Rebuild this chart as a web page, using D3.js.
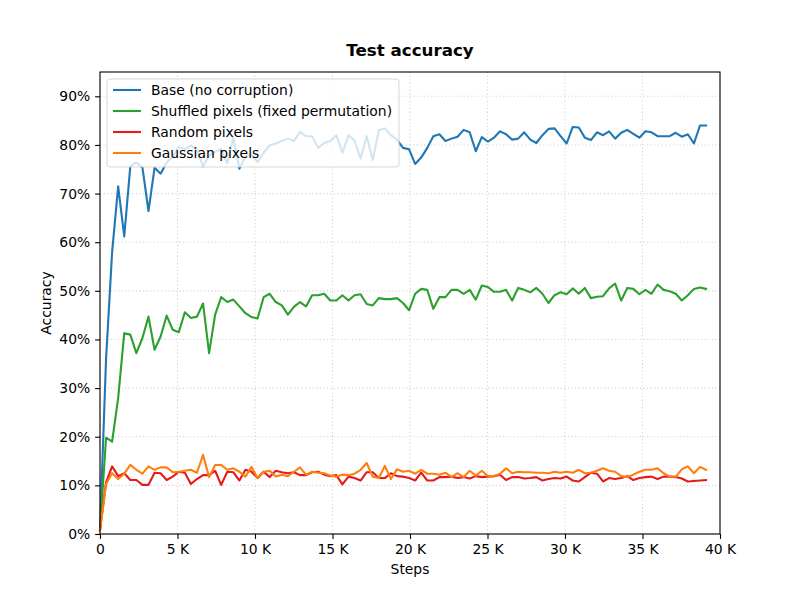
<!DOCTYPE html>
<html>
<head>
<meta charset="utf-8">
<script src="https://cdn.jsdelivr.net/npm/d3@7"></script>
<style>
  body { margin: 0; background: #fff; }
  svg { font-family: "DejaVu Sans", sans-serif; }
</style>
</head>
<body>
<section></section>
<script>
// one evaluation every 391 steps (one epoch), 101 evaluations
const EVAL_EVERY = 391;

// accuracy in percent
const base = [
  0.8, 36, 58, 71.5, 61.2, 75.6, 76.4, 75.4, 66.4, 75.3,
  74.1, 76.4, 77.6, 79.6, 79.1, 79.9, 79.0, 75.6, 77.8, 78.6,
  79.1, 76.2, 81.5, 75.1, 77.6, 78.0, 76.5, 78.4, 79.9, 80.3,
  80.8, 81.3, 80.8, 82.7, 81.8, 81.8, 79.4, 80.4, 80.8, 82.0,
  78.4, 82.0, 80.9, 77.2, 81.8, 76.9, 83.0, 83.4, 82.0, 81.1,
  79.4, 79.1, 76.1, 77.4, 79.4, 81.8, 82.2, 80.8, 81.3, 81.7,
  83.1, 82.6, 78.7, 81.6, 80.7, 81.5, 82.8, 82.2, 81.1, 81.3,
  82.6, 81.1, 80.4, 82.0, 83.3, 83.4, 81.8, 80.3, 83.7, 83.6,
  81.5, 81.0, 82.6, 82.0, 82.8, 81.3, 82.5, 83.1, 82.3, 81.5,
  82.8, 82.6, 81.8, 81.8, 81.8, 82.5, 81.7, 82.2, 80.3, 84.0, 84.0
];
const shuffled = [
  0.8, 19.8, 19.0, 28.0, 41.3, 41.0, 37.2, 40.3, 44.7, 37.9,
  40.6, 44.9, 42.0, 41.5, 45.6, 44.4, 44.7, 47.4, 37.2, 45.1,
  48.7, 47.7, 48.2, 46.8, 45.4, 44.6, 44.3, 48.7, 49.4, 47.7,
  47.0, 45.1, 46.7, 47.7, 46.8, 49.1, 49.1, 49.4, 48.0, 48.0,
  49.1, 48.0, 49.1, 49.3, 47.3, 47.0, 48.5, 48.3, 48.3, 48.5,
  47.5, 46.0, 49.4, 50.4, 50.2, 46.3, 48.7, 48.7, 50.2, 50.2,
  49.4, 50.2, 48.2, 51.1, 50.8, 49.8, 49.8, 50.2, 48.0, 50.6,
  50.2, 49.7, 50.6, 49.4, 47.5, 49.1, 49.7, 49.3, 50.5, 49.4,
  50.6, 48.5, 48.8, 48.9, 50.5, 51.5, 48.0, 50.6, 50.4, 49.3,
  50.2, 49.4, 51.3, 50.2, 49.9, 49.4, 48.0, 49.1, 50.4, 50.7, 50.4
];
const randomPx = [
  0.8, 10.6, 13.9, 11.9, 12.5, 11.1, 11.1, 10.1, 10.1, 12.6,
  12.5, 11.1, 11.8, 12.8, 12.6, 10.3, 11.3, 12.1, 12.1, 13.0,
  10.1, 12.8, 12.7, 11.0, 13.2, 12.8, 11.5, 12.8, 11.7, 13.0,
  12.7, 12.5, 12.7, 12.1, 12.1, 12.7, 12.8, 12.2, 11.9, 12.1,
  10.2, 11.8, 11.5, 11.0, 12.7, 12.7, 11.5, 11.5, 12.5, 11.9,
  11.8, 11.5, 11.0, 12.6, 11.0, 11.0, 11.7, 11.7, 11.8, 11.5,
  11.7, 11.4, 11.9, 11.7, 11.8, 11.9, 12.2, 11.1, 11.7, 11.7,
  11.4, 11.5, 11.7, 11.0, 11.3, 11.5, 11.4, 11.8, 11.0, 10.8,
  11.7, 12.6, 12.4, 10.8, 11.5, 11.3, 11.5, 11.9, 11.1, 11.5,
  11.7, 11.8, 11.3, 11.8, 11.8, 11.7, 11.4, 10.8, 10.9, 11.0, 11.1
];
const gaussian = [
  0.8, 10.3, 12.5, 11.3, 12.4, 14.2, 13.2, 12.4, 13.9, 13.2,
  13.7, 13.7, 12.7, 12.8, 13.0, 13.2, 12.6, 16.3, 11.7, 14.2,
  14.2, 13.2, 13.5, 12.8, 11.8, 13.8, 11.5, 12.8, 13.0, 11.8,
  12.2, 11.9, 12.8, 13.7, 12.2, 12.8, 12.6, 12.5, 12.0, 11.8,
  12.2, 12.1, 12.4, 13.2, 14.6, 11.8, 11.5, 14.0, 11.3, 13.3,
  12.8, 13.0, 12.4, 13.2, 12.4, 12.4, 12.2, 12.6, 11.7, 12.5,
  11.7, 13.0, 12.0, 13.0, 11.9, 11.9, 12.4, 13.5, 12.5, 12.8,
  12.7, 12.7, 12.6, 12.6, 12.5, 12.8, 12.6, 12.8, 12.6, 13.2,
  12.5, 12.6, 13.0, 13.5, 13.0, 12.8, 11.9, 11.7, 12.2, 12.8,
  13.2, 13.2, 13.5, 12.5, 11.8, 11.8, 13.3, 13.9, 12.5, 13.8, 13.2
];

const seriesNames = ["Base (no corruption)", "Shuffled pixels (fixed permutation)", "Random pixels", "Gaussian pixels"];
const seriesColors = ["#1f77b4", "#2ca02c", "#e41a1c", "#ff7f0e"];
const seriesValues = [base, shuffled, randomPx, gaussian];

const xTicks = [0, 5000, 10000, 15000, 20000, 25000, 30000, 35000, 40000];
const yTicks = [0, 0.1, 0.2, 0.3, 0.4, 0.5, 0.6, 0.7, 0.8, 0.9];

const WIDTH = 800;
const HEIGHT = 600;
const M = {top: 72, right: 80, bottom: 66, left: 100};
const FS = 13.9;

const svg = d3.select("section")
  .append("svg")
  .attr("width", WIDTH)
  .attr("height", HEIGHT);

const xScale = d3.scaleLinear().domain([0, 40000]).range([M.left, WIDTH - M.right]);
const yScale = d3.scaleLinear().domain([0, 0.95]).range([HEIGHT - M.bottom, M.top]);

// dotted grid
svg.append("g").selectAll("line")
  .data(xTicks).enter().append("line")
  .attr("x1", d => xScale(d)).attr("x2", d => xScale(d))
  .attr("y1", M.top).attr("y2", HEIGHT - M.bottom)
  .attr("stroke", "#d0d0d0").attr("stroke-width", 1.1)
  .attr("stroke-dasharray", "1.1,2.5");
svg.append("g").selectAll("line")
  .data(yTicks).enter().append("line")
  .attr("x1", M.left).attr("x2", WIDTH - M.right)
  .attr("y1", d => yScale(d)).attr("y2", d => yScale(d))
  .attr("stroke", "#d0d0d0").attr("stroke-width", 1.1)
  .attr("stroke-dasharray", "1.1,2.5");

// lines
const line = d3.line()
  .x((d, i) => xScale(i * EVAL_EVERY))
  .y(d => yScale(d / 100));

svg.append("g").selectAll("path")
  .data(seriesValues).enter().append("path")
  .attr("d", d => line(d))
  .attr("fill", "none")
  .attr("stroke", (d, i) => seriesColors[i])
  .attr("stroke-width", 2.1)
  .attr("stroke-linejoin", "round")
  .attr("stroke-linecap", "square");

// axes
const xAxis = d3.axisBottom(xScale)
  .tickValues(xTicks)
  .tickSize(4.9).tickPadding(4.9)
  .tickFormat(d => d === 0 ? "0" : (d / 1000) + " K");
const yAxis = d3.axisLeft(yScale)
  .tickValues(yTicks)
  .tickSize(4.9).tickPadding(4.9)
  .tickFormat(d => Math.round(d * 100) + "%");

const gx = svg.append("g")
  .attr("transform", "translate(0," + (HEIGHT - M.bottom) + ")")
  .call(xAxis);
const gy = svg.append("g")
  .attr("transform", "translate(" + M.left + ",0)")
  .call(yAxis);

[gx, gy].forEach(g => {
  g.select(".domain").remove();
  g.selectAll(".tick line").attr("stroke", "#000").attr("stroke-width", 1.1);
  g.selectAll(".tick text")
    .attr("fill", "#000")
    .style("font-size", FS + "px")
    .style("font-family", "DejaVu Sans");
});

// frame
svg.append("rect")
  .attr("x", M.left).attr("y", M.top)
  .attr("width", WIDTH - M.left - M.right)
  .attr("height", HEIGHT - M.top - M.bottom)
  .attr("fill", "none")
  .attr("stroke", "#000")
  .attr("stroke-width", 1.1);

// title and labels
svg.append("text")
  .attr("x", (M.left + WIDTH - M.right) / 2)
  .attr("y", 56)
  .attr("text-anchor", "middle")
  .style("font-size", "16.7px")
  .style("font-weight", "bold")
  .text("Test accuracy");

svg.append("text")
  .attr("x", (M.left + WIDTH - M.right) / 2)
  .attr("y", 574)
  .attr("text-anchor", "middle")
  .style("font-size", FS + "px")
  .text("Steps");

svg.append("text")
  .attr("transform", "translate(51," + ((M.top + HEIGHT - M.bottom) / 2) + ") rotate(-90)")
  .attr("text-anchor", "middle")
  .style("font-size", FS + "px")
  .text("Accuracy");

// legend
const legend = svg.append("g");
legend.append("rect")
  .attr("x", 107).attr("y", 79)
  .attr("width", 292).attr("height", 88)
  .attr("rx", 3)
  .attr("fill", "#fff").attr("fill-opacity", 0.8)
  .attr("stroke", "#ccc").attr("stroke-opacity", 0.8);

const rows = legend.selectAll("g.row")
  .data(seriesNames).enter().append("g")
  .attr("class", "row")
  .attr("transform", (d, i) => "translate(0," + (90 + i * 21) + ")");
rows.append("line")
  .attr("x1", 113).attr("x2", 141)
  .attr("stroke", (d, i) => seriesColors[i])
  .attr("stroke-width", 2.1);
rows.append("text")
  .attr("x", 151)
  .attr("dy", "0.35em")
  .style("font-size", FS + "px")
  .text(d => d);
</script>
</body>
</html>
